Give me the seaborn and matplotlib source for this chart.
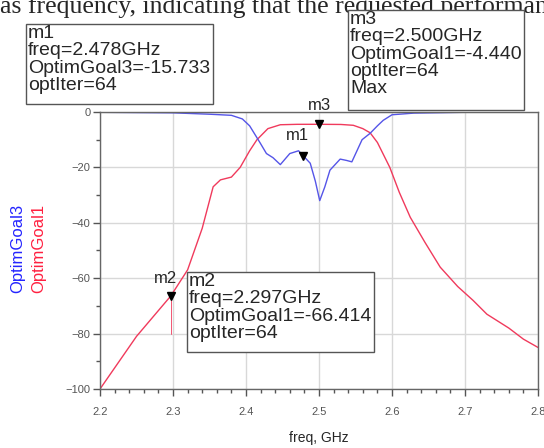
import matplotlib
matplotlib.use("Agg")
import matplotlib.pyplot as plt
from matplotlib.patches import Rectangle
import seaborn as sns
import pandas as pd

# OptimGoal1 (transmission, red)
freq_goal1 = [2.20, 2.25, 2.297, 2.32, 2.34, 2.355, 2.365, 2.38, 2.392, 2.405,
              2.415, 2.43, 2.447, 2.47, 2.50, 2.53, 2.547, 2.56, 2.57, 2.58,
              2.597, 2.61, 2.625, 2.645, 2.666, 2.69, 2.711, 2.73, 2.76, 2.78, 2.80]
goal1_db = [-100, -81, -66.4, -57, -42, -27, -24.5, -23.5, -20, -14,
            -10, -6, -4.6, -4.45, -4.44, -4.5, -4.8, -6, -7.5, -11,
            -20, -29, -38, -47, -56, -63, -68, -73, -78, -82, -85]

# OptimGoal3 (reflection, blue)
freq_goal3 = [2.20, 2.30, 2.35, 2.38, 2.395, 2.405, 2.419, 2.428, 2.437, 2.447,
              2.46, 2.472, 2.478, 2.488, 2.495, 2.501, 2.508, 2.515, 2.529, 2.538,
              2.545, 2.552, 2.559, 2.57, 2.58, 2.588, 2.60, 2.63, 2.70, 2.80]
goal3_db = [-0.1, -0.3, -0.8, -1.2, -2.5, -5, -11, -15, -16.5, -19,
            -15, -14, -15.7, -18.5, -25, -32, -27, -21, -17, -17.5,
            -18, -14, -10, -7.7, -5, -3, -1, -0.4, -0.1, 0]

# markers
marker_names = ["m1", "m2", "m3"]
marker_freq = [2.478, 2.297, 2.500]
marker_val = [-15.733, -66.414, -4.440]

m1_text = "m1\nfreq=2.478GHz\nOptimGoal3=-15.733\noptIter=64"
m2_text = "m2\nfreq=2.297GHz\nOptimGoal1=-66.414\noptIter=64"
m3_text = "m3\nfreq=2.500GHz\nOptimGoal1=-4.440\noptIter=64\nMax"

sns.set_theme(style="whitegrid")
plt.rcParams['font.family'] = ['Liberation Sans', 'DejaVu Sans']

W, H = 544, 448
fig = plt.figure(figsize=(W / 100, H / 100), dpi=100)
ax = fig.add_axes([100 / W, 1 - 389 / H, 438 / W, 277 / H])
ax.set_facecolor("white")

df1 = pd.DataFrame({"freq": freq_goal1, "val": goal1_db})
df3 = pd.DataFrame({"freq": freq_goal3, "val": goal3_db})
sns.lineplot(data=df1, x="freq", y="val", ax=ax, color="#f03a5c", linewidth=1.0)
sns.lineplot(data=df3, x="freq", y="val", ax=ax, color="#5555e8", linewidth=1.0)

ax.set_xlim(2.2, 2.8)
ax.set_ylim(-100, 0)
ax.set_xticks([2.2, 2.3, 2.4, 2.5, 2.6, 2.7, 2.8])
ax.set_xticklabels(["2.2", "2.3", "2.4", "2.5", "2.6", "2.7", "2.8"])
ax.set_yticks([0, -20, -40, -60, -80, -100])
ax.set_xticks([2.2 + 0.02 * i for i in range(31)], minor=True)
ax.set_yticks([-10 * i for i in range(11)], minor=True)
ax.tick_params(axis="x", which="major", pad=8)
ax.tick_params(axis="y", which="major", pad=2)
ax.tick_params(axis="both", which="major", direction="out", length=5, width=1,
               colors="#555555", labelsize=8, bottom=True, left=True)
ax.tick_params(axis="both", which="minor", direction="out", length=3, width=1,
               color="#555555", bottom=True, left=True)
ax.grid(True, which="major", color="#d8d8d8", linewidth=1.0)
for s in ax.spines.values():
    s.set_color("#666666")
    s.set_linewidth(1.0)
ax.set_xlabel("freq, GHz", fontsize=10, labelpad=10)
ax.set_ylabel("")

# marker triangles and labels
label_offsets = {"m1": (-4, 9), "m2": (-4, 7), "m3": (0, 8)}
for name, fx, fy in zip(marker_names, marker_freq, marker_val):
    ax.plot(fx, fy, marker="v", color="black", markersize=6, clip_on=False, zorder=4)
    ax.annotate(name, xy=(fx, fy), xytext=label_offsets[name],
                textcoords="offset points", ha="center", va="bottom",
                fontsize=12, annotation_clip=False)
ax.plot([marker_freq[1], marker_freq[1]], [marker_val[1], -80], color="#f03a5c", lw=0.6)

# y labels (two colours)
fig.text(18 / W, 1 - 248 / H, "OptimGoal3", color="#2424ff", rotation=90,
         ha="center", va="center", fontsize=12)
fig.text(39 / W, 1 - 248 / H, "OptimGoal1", color="#ff2040", rotation=90,
         ha="center", va="center", fontsize=12)

# cropped header line from the source page
fig.text(0.0, 1 - 13 / H, "as frequency, indicating that the requested performance",
         ha="left", va="baseline", fontsize=18.5, family=["Liberation Serif"], zorder=1)


def marker_box(x0, y0, x1, y1, text):
    # box given in pixels from the top-left corner
    fig.patches.append(Rectangle((x0 / W, 1 - y1 / H), (x1 - x0) / W, (y1 - y0) / H,
                                 transform=fig.transFigure, fc="white",
                                 ec="#555555", lw=1.0, zorder=5))
    fig.text((x0 + 2) / W, 1 - (y0 + 1) / H, text, ha="left", va="top",
             fontsize=14, linespacing=1.02, zorder=6)


marker_box(26, 24, 213, 104, m1_text)
marker_box(348, 10, 524, 110, m3_text)
marker_box(187, 272, 374, 352, m2_text)

fig.savefig("out.png", dpi=100)
